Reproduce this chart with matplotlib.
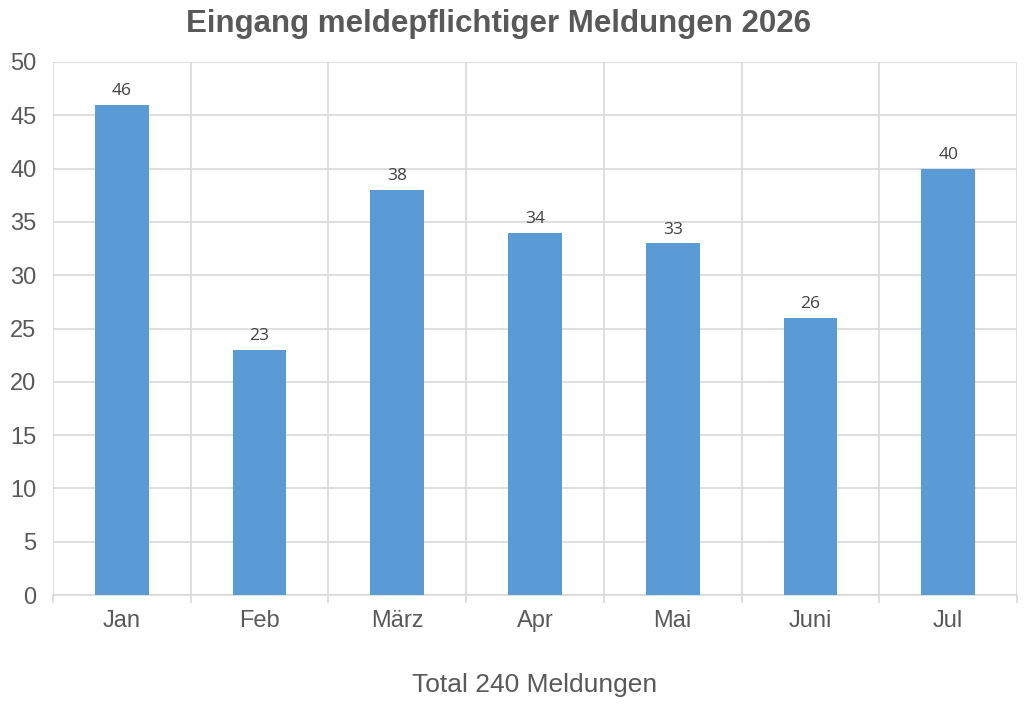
import matplotlib
matplotlib.use("Agg")
import matplotlib.pyplot as plt
import numpy as np

months = ["Jan", "Feb", "März", "Apr", "Mai", "Juni", "Jul"]
values = [46, 23, 38, 34, 33, 26, 40]
title = "Eingang meldepflichtiger Meldungen 2026"
xlabel = "Total 240 Meldungen"
yticks = [0, 5, 10, 15, 20, 25, 30, 35, 40, 45, 50]

text_col = "#595959"
grid_col = "#D9D9D9"
bar_col = "#5B9BD5"

plt.rcParams['font.family'] = ['Liberation Sans', 'DejaVu Sans']

fig = plt.figure(figsize=(10.24, 7.04), dpi=100)
ax = fig.add_axes([53/1024, 1-595/704, (1017-53)/1024, (595-62)/704])

x = np.arange(len(months))
bars = ax.bar(x, values, width=0.39, color=bar_col, zorder=3)

for xi, v in zip(x, values):
    ax.annotate(str(v), (xi, v), xytext=(0, 4), textcoords="offset points",
                ha="center", va="bottom", fontsize=12.5, color="#404040",
                family=["Open Sans", "DejaVu Sans"])

ax.set_xlim(-0.5, len(months) - 0.5)
ax.set_ylim(0, 50)
ax.set_yticks(yticks)
ax.set_yticklabels([str(t) for t in yticks], fontsize=17, color=text_col)
ax.set_xticks(x)
ax.set_xticklabels(months, fontsize=17, color=text_col)
ax.tick_params(axis="x", length=0, pad=11)
ax.tick_params(axis="y", length=0, pad=12)

# category boundary gridlines and ticks
bounds = np.arange(len(months) + 1) - 0.5
ax.set_xticks(bounds, minor=True)
ax.tick_params(axis="x", which="minor", length=6, color=grid_col, width=1.2)
ax.grid(True, which="minor", axis="x", color=grid_col, linewidth=1.2, zorder=0)
ax.grid(True, which="major", axis="y", color=grid_col, linewidth=1.2, zorder=0)

for s in ["top", "right", "left"]:
    ax.spines[s].set_visible(False)
ax.spines["bottom"].set_color(grid_col)
ax.spines["bottom"].set_linewidth(1.2)

fig.text(498/1024, 1-24/704, title, ha="center", va="center", fontsize=22.5,
         fontweight="bold", color=text_col)
fig.text(535/1024, 1-685/704, xlabel, ha="center", va="center", fontsize=19,
         color=text_col)

fig.savefig("out.png", dpi=100, facecolor="white")
